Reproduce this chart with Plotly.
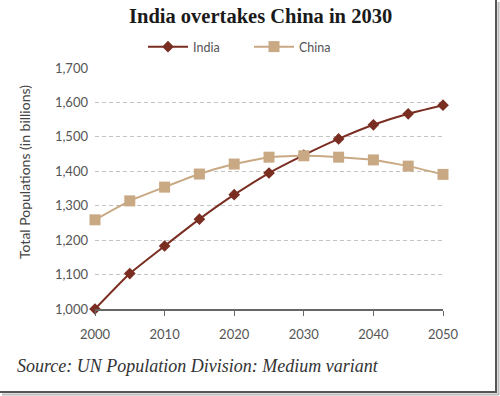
import plotly.graph_objects as go

years = [2000, 2005, 2010, 2015, 2020, 2025, 2030, 2035, 2040, 2045, 2050]
india = [1000, 1103, 1183, 1261, 1332, 1395, 1447, 1494, 1535, 1567, 1592]
china = [1259, 1314, 1354, 1392, 1421, 1441, 1445, 1441, 1433, 1415, 1391]
x_ticks = [2000, 2010, 2020, 2030, 2040, 2050]
y_ticks = [1000, 1100, 1200, 1300, 1400, 1500, 1600, 1700]

W, H = 500, 396
L, R, T, B = 95, 57, 68, 87
PW, PH = W - L - R, H - T - B

def px(x):
    return (x - L) / PW

def py(y):
    return (H - B - y) / PH

fig = go.Figure()
fig.add_trace(go.Scatter(
    x=years, y=india, name="India", mode="lines+markers",
    line=dict(color="#7a2e22", width=2, shape="spline", smoothing=0.4),
    marker=dict(symbol="diamond", size=9, color="#7a2e22"),
    cliponaxis=False,
))
fig.add_trace(go.Scatter(
    x=years, y=china, name="China", mode="lines+markers",
    line=dict(color="#c9a984", width=2, shape="spline", smoothing=0.4),
    marker=dict(symbol="square", size=11, color="#c9a984"),
    cliponaxis=False,
))

fig.update_layout(
    width=W, height=H,
    margin=dict(l=L, r=R, t=T, b=B),
    paper_bgcolor="white", plot_bgcolor="white",
    showlegend=True,
    legend=dict(
        orientation="h", x=px(143), y=py(47), xanchor="left", yanchor="middle",
        font=dict(family="Lato, Open Sans, sans-serif", size=12.5, color="#555"),
        entrywidth=51, entrywidthmode="pixels", itemwidth=40,
        bgcolor="rgba(0,0,0,0)",
    ),
    xaxis=dict(
        range=[2000, 2050], tickvals=x_ticks, ticks="outside", ticklen=5,
        tickcolor="#666", showline=True, linecolor="#666", linewidth=1.5,
        showgrid=False, zeroline=False, ticklabelstandoff=8,
        tickfont=dict(family="Lato, Open Sans, sans-serif", size=13, color="#555"),
    ),
    yaxis=dict(
        range=[1000, 1700], tickvals=y_ticks, tickformat=",d",
        showgrid=True, gridcolor="#c4c4c4", griddash="4px,3px", gridwidth=1,
        showline=False, zeroline=False, ticks="", ticklabelstandoff=6,
        tickfont=dict(family="Lato, Open Sans, sans-serif", size=13, color="#555"),
    ),
    annotations=[
        dict(text="<b>India overtakes China in 2030</b>", x=px(260), y=py(16),
             xref="paper", yref="paper", showarrow=False, xanchor="center", yanchor="middle",
             font=dict(family="Liberation Serif, serif", size=20.5, color="#1a1a1a")),
        dict(text="Total Populations (in billions)", x=px(24), y=py(172),
             xref="paper", yref="paper", showarrow=False, textangle=-90,
             xanchor="center", yanchor="middle",
             font=dict(family="Lato, Open Sans, sans-serif", size=14, color="#444")),
        dict(text="<i>Source: UN Population Division: Medium variant</i>", x=px(15), y=py(366),
             xref="paper", yref="paper", showarrow=False, xanchor="left", yanchor="middle",
             font=dict(family="Liberation Serif, serif", size=18, color="#333")),
    ],
    shapes=[
        dict(type="line", xref="paper", yref="paper", x0=px(496), x1=px(496), y0=py(0), y1=py(393),
             line=dict(color="#555", width=2)),
        dict(type="line", xref="paper", yref="paper", x0=px(498.5), x1=px(498.5), y0=py(2), y1=py(395),
             line=dict(color="#bbb", width=2)),
        dict(type="line", xref="paper", yref="paper", x0=px(0), x1=px(497), y0=py(392), y1=py(392),
             line=dict(color="#555", width=2)),
        dict(type="line", xref="paper", yref="paper", x0=px(2), x1=px(499), y0=py(394.5), y1=py(394.5),
             line=dict(color="#bbb", width=2)),
    ],
)

fig.write_html("out.html", config={"displayModeBar": False},
               post_script="document.body.style.margin='0';document.body.style.overflow='hidden';")
